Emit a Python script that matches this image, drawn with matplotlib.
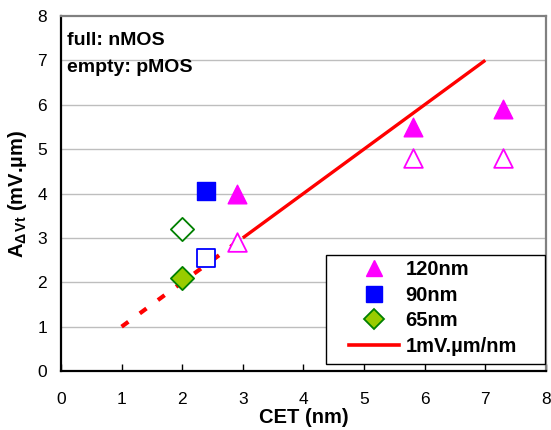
import matplotlib
matplotlib.use("Agg")
import matplotlib.pyplot as plt
from matplotlib.lines import Line2D
from matplotlib.patches import Rectangle

plt.rcParams['font.family'] = ['Liberation Sans', 'DejaVu Sans']
plt.rcParams['mathtext.fontset'] = 'custom'
plt.rcParams['mathtext.rm'] = 'Liberation Sans:bold'
plt.rcParams['mathtext.it'] = 'Liberation Sans:bold'
plt.rcParams['mathtext.bf'] = 'Liberation Sans:bold'

# nMOS (full markers)
n120_x = [2.9, 5.8, 7.3]
n120_y = [4.0, 5.5, 5.9]
n90_x = [2.4]
n90_y = [4.05]
n65_x = [2.0]
n65_y = [2.1]
# pMOS (empty markers)
p120_x = [2.9, 5.8, 7.3]
p120_y = [2.9, 4.8, 4.8]
p90_x = [2.4]
p90_y = [2.55]
p65_x = [2.0]
p65_y = [3.2]
# reference line 1 mV.um/nm
dot_x = [1.0, 3.0]
dot_y = [1.0, 3.0]
sol_x = [3.0, 7.0]
sol_y = [3.0, 7.0]

xticks = [0, 1, 2, 3, 4, 5, 6, 7, 8]
yticks = [0, 1, 2, 3, 4, 5, 6, 7, 8]
labels = ['120nm', '90nm', '65nm', '1mV.µm/nm']

fig = plt.figure(figsize=(5.51, 4.30), dpi=100)
ax = fig.add_axes([0.1107, 0.137, 0.880, 0.826])

MAG = '#FF00FF'
BLU = '#0000FF'
GRN_F = '#99CC00'
GRN_E = '#008000'
RED = '#FF0000'

ax.plot(dot_x, dot_y, color=RED, lw=3.0, dashes=(2.0, 3.4), zorder=2)
ax.plot(sol_x, sol_y, color=RED, lw=2.4, solid_capstyle='butt', zorder=2)

ax.scatter(n120_x, n120_y, marker='^', s=180, color=MAG, zorder=3)
ax.scatter(n90_x, n90_y, marker='s', s=150, color=BLU, zorder=3)
ax.scatter(n65_x, n65_y, marker='D', s=140, facecolor=GRN_F, edgecolor=GRN_E, linewidth=1.3, zorder=3)
ax.scatter(p120_x, p120_y, marker='^', s=180, facecolor='white', edgecolor=MAG, linewidth=1.3, zorder=3)
ax.scatter(p90_x, p90_y, marker='s', s=150, facecolor='white', edgecolor=BLU, linewidth=1.3, zorder=3)
ax.scatter(p65_x, p65_y, marker='D', s=140, facecolor='white', edgecolor=GRN_E, linewidth=1.3, zorder=3)

ax.set_xlim(0, 8)
ax.set_ylim(0, 8)
ax.set_xticks(xticks)
ax.set_yticks(yticks)
ax.tick_params(axis='x', direction='in', length=5, width=1, labelsize=12.5, pad=15)
ax.tick_params(axis='y', length=0, labelsize=12.5, pad=10)
for y in yticks[1:-1]:
    ax.axhline(y, color='#BEBEBE', lw=1, zorder=0)

for side in ['left', 'bottom']:
    ax.spines[side].set_linewidth(1.6)
for side in ['top', 'right']:
    ax.spines[side].set_linewidth(1.6)
    ax.spines[side].set_color('#808080')

ax.set_xlabel('CET (nm)', fontsize=14.5, fontweight='bold', labelpad=1)
ax.set_ylabel(r'A$_{\Delta\,Vt}$ (mV.µm)', fontsize=14.5, fontweight='bold', labelpad=6)

ax.text(0.012, 0.932, 'full: nMOS', transform=ax.transAxes, fontsize=14, fontweight='bold', va='center')
ax.text(0.012, 0.855, 'empty: pMOS', transform=ax.transAxes, fontsize=14, fontweight='bold', va='center')

handles = [
    Line2D([], [], ls='none', marker='^', ms=12, color=MAG),
    Line2D([], [], ls='none', marker='s', ms=11, color=BLU),
    Line2D([], [], ls='none', marker='D', ms=10, markerfacecolor=GRN_F, markeredgecolor=GRN_E, markeredgewidth=1.3),
    Line2D([], [], color=RED, lw=2.6),
]
ax.add_patch(Rectangle((0.546, 0.020), 0.452, 0.307, transform=ax.transAxes,
                       facecolor='white', edgecolor='black', lw=1.0, zorder=4))
leg = ax.legend(handles, labels, loc='center left', bbox_to_anchor=(0.594, 0.1775),
                prop={'weight': 'bold', 'size': 14.5}, frameon=False,
                handlelength=2.5, labelspacing=0.32, borderpad=0.0,
                handletextpad=0.3, borderaxespad=0.0)
leg.set_zorder(5)

fig.savefig('out.png', dpi=100)
